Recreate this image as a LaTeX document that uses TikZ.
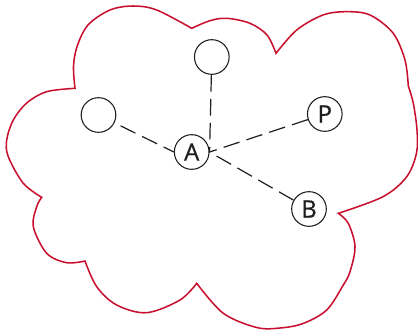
\documentclass[tikz,border=0pt]{standalone}
\usepackage{fontspec}
\setmainfont{Open Sans}
\newfontfamily\nodefont{Open Sans}[FakeBold=0.7,BoldFont={Open Sans}]
\definecolor{cloudred}{RGB}{200,16,46}
\definecolor{ink}{RGB}{30,30,30}
\begin{document}
\begin{tikzpicture}[x=0.75pt,y=-0.75pt,
  cloud/.style={draw=cloudred,line width=1.15pt,line join=miter},
  pnode/.style={circle,draw=ink,line width=0.8pt,minimum size=26pt,inner sep=0pt,text=ink,font=\nodefont\fontsize{18}{18}\selectfont\bfseries},
  link/.style={draw=ink,line width=0.9pt,dash pattern=on 12.5pt off 5.5pt}]
\useasboundingbox (0,0) rectangle (418,329);
% cloud outline
\draw[cloud]
  plot[smooth,tension=0.55] coordinates {(75,88.3) (73.5,66.7) (77,46.7) (88,25) (110,10) (133.3,6) (156.7,10) (191.7,28.3)}
  -- plot[smooth,tension=0.55] coordinates {(191.7,28.3) (210,20.7) (226.7,18.3) (250,23.3) (267,35) (276,53.3)}
  -- plot[smooth,tension=0.55] coordinates {(276,53.3) (296.7,30) (323,15) (346.7,11.7) (370,15) (393,33) (405,60) (408.3,86)}
  -- plot[smooth,tension=0.55] coordinates {(408.3,86) (413.3,103.3) (417,130) (416.5,153) (406.7,176.7) (383,196.7) (338.3,213.3)}
  -- plot[smooth,tension=0.55] coordinates {(338.3,213.3) (348.3,223.3) (355,246.7) (350,271.7) (343.3,285) (326.7,310) (303,323.5) (280,328) (256.7,327.5) (223.3,313.3) (196.7,283.3)}
  -- plot[smooth,tension=0.55] coordinates {(196.7,283.3) (180,300) (146.7,312.7) (116.7,305) (96.7,286.7) (85,261)}
  -- plot[smooth,tension=0.55] coordinates {(85,261) (66.7,262.7) (46.7,253.3) (33.3,226.7) (36.7,206.7) (41.7,197.3)}
  -- plot[smooth,tension=0.55] coordinates {(41.7,197.3) (23.3,183.3) (8.3,156.7) (6.7,140) (13.3,120) (26.7,103) (46.7,91.7) (75,88.3)}
  -- cycle;
% nodes
\node[pnode] (A) at (191.7,152) {A};
\node[pnode] (T) at (211.8,57) {};
\node[pnode] (L) at (98.5,115) {};
\node[pnode] (P) at (324.8,114) {P};
\node[pnode] (B) at (309,209) {B};
% connectors
\draw[link] (T) -- (A.east);
\draw[link] (P) -- (A.east);
\draw[link] (B) -- (A.east);
\draw[link,shorten <=5pt] (L) -- (A.west);
\end{tikzpicture}
\end{document}
